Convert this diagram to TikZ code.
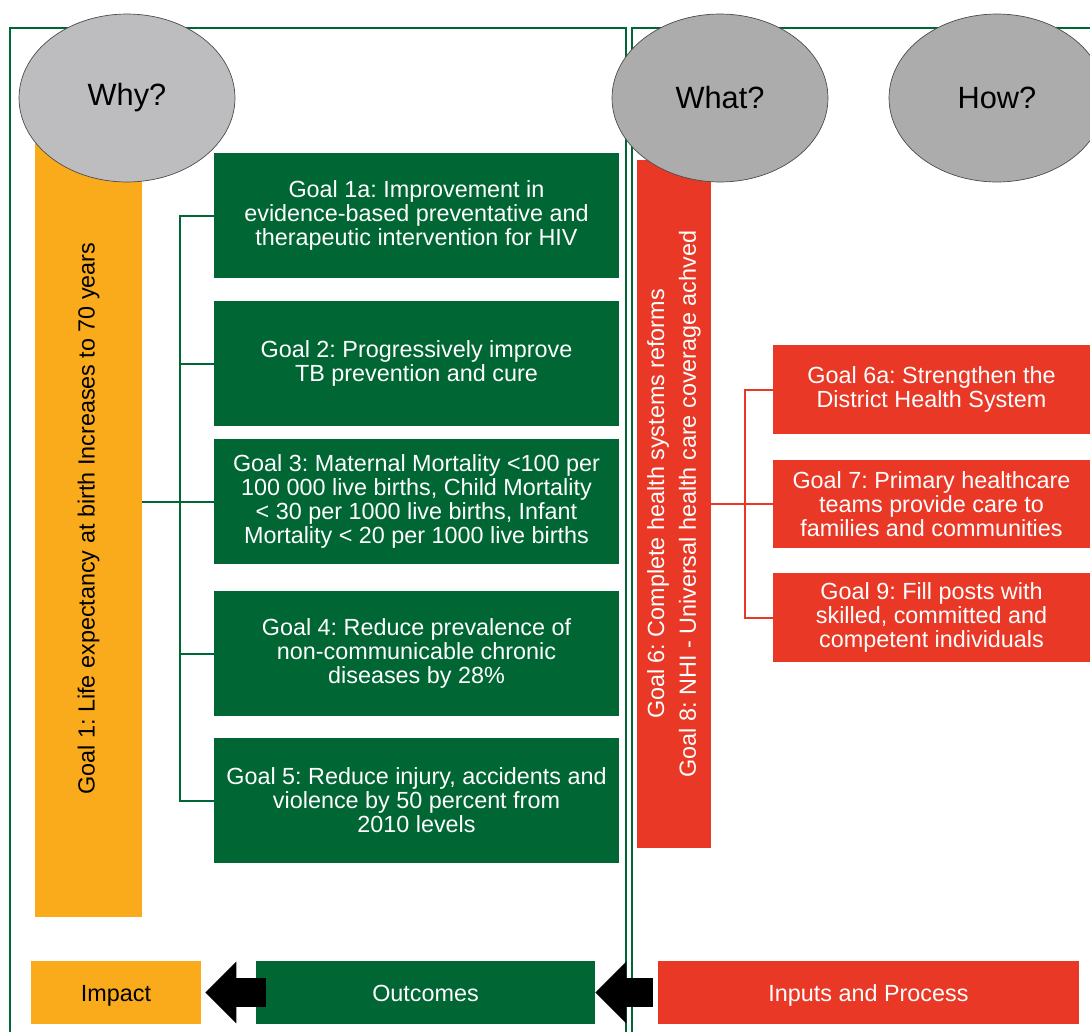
\documentclass[tikz,border=0pt]{standalone}
\usepackage{fontspec}
\setmainfont{Liberation Sans}
\usepackage{tikz}
\usetikzlibrary{arrows.meta, shapes.geometric}
\definecolor{outG}{RGB}{0, 102, 51}
\definecolor{impO}{RGB}{249, 171, 28}
\definecolor{inR}{RGB}{234, 56, 39}
\definecolor{askA}{RGB}{189, 189, 192}
\definecolor{askB}{RGB}{172, 172, 172}
\frenchspacing

\begin{document}
\begin{tikzpicture}[x=0.02cm, y=-0.02cm,
  font=\fontsize{13.3}{13.6}\selectfont,
  frame/.style={draw=outG, line width=0.05cm},
  ask/.style={ellipse, draw=black!70, fill=askB, minimum width=4.32cm, minimum height=3.36cm, inner sep=0pt, font=\fontsize{17.5}{20}\selectfont},
  gbox/.style={fill=outG, text=white, align=center, inner sep=0pt, minimum width=8.1cm, minimum height=2.5cm},
  rbox/.style={fill=inR, text=white, align=center, inner sep=0pt, minimum width=6.34cm, minimum height=1.78cm},
  lbox/.style={inner sep=0pt, minimum height=1.26cm, text height=0.99em, text depth=0.01em},
  gline/.style={draw=outG, line width=0.04cm},
  rline/.style={draw=inR, line width=0.04cm},
  blockarrow/.style={line width=0.58cm, -{Triangle[length=0.62cm, width=1.2cm]}}]
  \useasboundingbox (0,0) rectangle (1090,1032);
  \clip (0,0) rectangle (1090,1032);

  % two framed panels
  \draw[frame] (10,28) rectangle (626,1060);
  \draw[frame] (632,28) rectangle (1120,1060);

  % long bars
  \node[fill=impO, rotate=90, minimum width=15.94cm, minimum height=2.14cm, inner sep=0pt] (life) at (88.5,518.5)
    {Goal 1: Life expectancy at birth Increases to 70 years};
  \node[fill=inR, text=white, rotate=90, align=center, minimum width=13.76cm, minimum height=1.48cm, inner sep=0pt] (nhi) at (674,504)
    {Goal 6: Complete health systems reforms\\[0.16cm] Goal 8: NHI - Universal health care coverage achved};

  % questions
  \node[ask, fill=askA] (why) at (127,98) {Why?};
  \node[ask] (what) at (720,98) {What?};
  \node[ask] (how) at (997,98) {How?};

  % outcome goals
  \foreach \i/\y/\txt in {
    1/215.5/{Goal 1a: Improvement in\\evidence-based preventative and\\therapeutic intervention for HIV},
    2/363.5/{Goal 2: Progressively improve\\TB prevention and cure},
    3/501.5/{Goal 3: Maternal Mortality <100 per\\100 000 live births, Child Mortality\\< 30 per 1000 live births, Infant\\Mortality < 20 per 1000 live births},
    4/653.5/{Goal 4: Reduce prevalence of\\non-communicable chronic\\diseases by 28\%},
    5/800.5/{Goal 5: Reduce injury, accidents and\\violence by 50 percent from\\2010 levels}} {
    \node[gbox] (g\i) at (416.5,\y) {\txt};
  }

  % input goals
  \foreach \i/\y/\txt in {
    6/389.5/{Goal 6a: Strengthen the\\District Health System},
    7/504/{Goal 7: Primary healthcare\\teams provide care to\\families and communities},
    9/617.5/{Goal 9: Fill posts with\\skilled, committed and\\competent individuals}} {
    \node[rbox] (r\i) at (931.5,\y) {\txt};
  }

  % left bracket
  \coordinate (lb) at (180,0);
  \draw[gline] (g1.west) -- (g1.west -| lb) -- (g5.west -| lb) -- (g5.west);
  \foreach \i in {2,3,4} {
    \draw[gline] (g\i.west) -- (g\i.west -| lb);
  }
  \draw[gline] (life.south |- g3.west) -- (g3.west);

  % right bracket
  \coordinate (rb) at (745,0);
  \draw[rline] (r6.west) -- (r6.west -| rb) -- (r9.west -| rb) -- (r9.west);
  \draw[rline] (nhi.south |- r7.west) -- (r7.west);

  % bottom row
  \node[lbox, fill=impO, minimum width=3.4cm] (impact) at (116,992.5) {Impact};
  \node[lbox, fill=outG, text=white, minimum width=6.78cm] (outcomes) at (425.5,992.5) {Outcomes};
  \node[lbox, fill=inR, text=white, minimum width=8.42cm] (inputs) at (868.5,992.5) {Inputs and Process};
  \draw[blockarrow] ([xshift=0.2cm]outcomes.west) -- ([xshift=0.08cm]impact.east);
  \draw[blockarrow] ([xshift=-0.1cm]inputs.west) -- (outcomes.east);
\end{tikzpicture}
\end{document}
